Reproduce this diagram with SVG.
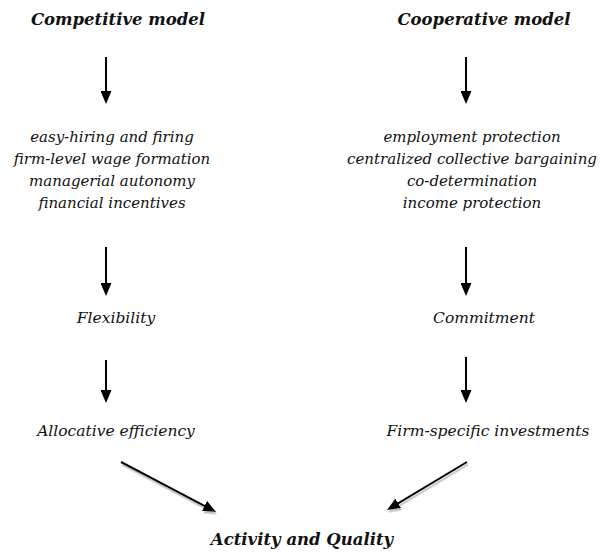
<svg xmlns="http://www.w3.org/2000/svg" width="615" height="553" viewBox="0 0 615 553">
<defs>
<marker id="ah" viewBox="0 0 13 11" refX="3" refY="5.5" markerWidth="13" markerHeight="11" orient="auto" markerUnits="userSpaceOnUse">
<path d="M0,0 L13,5.5 L0,11 z" fill="#000"/>
</marker>
<filter id="sh" x="-20%" y="-20%" width="140%" height="160%">
<feDropShadow dx="1" dy="2.5" stdDeviation="0.6" flood-color="#999" flood-opacity="0.6"/>
</filter>
<style>
text{font-family:"DejaVu Serif",serif;font-style:italic;font-size:15.5px;fill:#111;text-anchor:middle}
.l{font-size:15px}
.b{font-weight:bold;font-size:16.5px}
.c{stroke:#000;stroke-width:2;fill:none;marker-end:url(#ah)}
.d{filter:url(#sh)}
</style>
</defs>
<rect width="615" height="553" fill="#fff"/>
<g id="competitive"><text class="b" x="118" y="25">Competitive model</text></g>
<g id="cooperative"><text class="b" x="484" y="25">Cooperative model</text></g>
<g id="competitive-list">
<text class="l" x="112" y="142">easy-hiring and firing</text>
<text class="l" x="112" y="164">firm-level wage formation</text>
<text class="l" x="112" y="186">managerial autonomy</text>
<text class="l" x="112" y="208">financial incentives</text>
</g>
<g id="cooperative-list">
<text class="l" x="472" y="142">employment protection</text>
<text class="l" x="472" y="164">centralized collective bargaining</text>
<text class="l" x="472" y="186">co-determination</text>
<text class="l" x="472" y="208">income protection</text>
</g>
<g id="flexibility"><text x="116" y="323">Flexibility</text></g>
<g id="commitment"><text x="484" y="323">Commitment</text></g>
<g id="allocative"><text x="116" y="436">Allocative efficiency</text></g>
<g id="firmspecific"><text x="488" y="436">Firm-specific investments</text></g>
<g id="activity"><text class="b" x="302" y="545">Activity and Quality</text></g>
<g id="connectors">
<line class="c" x1="106" y1="57" x2="106" y2="94"/>
<line class="c" x1="466" y1="57" x2="466" y2="94"/>
<line class="c" x1="106" y1="247" x2="106" y2="286"/>
<line class="c" x1="466" y1="247" x2="466" y2="286"/>
<line class="c" x1="106" y1="360" x2="106" y2="393"/>
<line class="c" x1="466" y1="357" x2="466" y2="393"/>
<line class="c d" x1="121" y1="462" x2="207.2" y2="507.3"/>
<line class="c d" x1="467" y1="462" x2="395.6" y2="504.9"/>
</g>
</svg>
